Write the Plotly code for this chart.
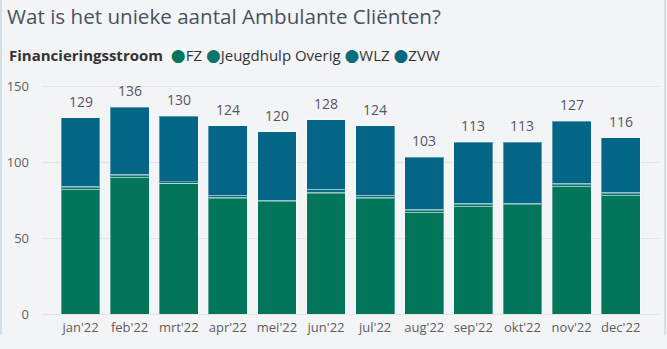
import plotly.graph_objects as go

months = ["jan'22", "feb'22", "mrt'22", "apr'22", "mei'22", "jun'22",
          "jul'22", "aug'22", "sep'22", "okt'22", "nov'22", "dec'22"]
fz = [82, 90, 86, 76, 74, 79, 76, 67, 71, 72, 84, 78]
jeugdhulp = [1, 1, 0, 1, 0, 1, 1, 1, 1, 0, 1, 1]
wlz = [1, 1, 1, 1, 1, 2, 1, 1, 1, 1, 1, 1]
zvw = [45, 44, 43, 46, 45, 46, 46, 34, 40, 40, 41, 36]
y_ticks = [0, 50, 100, 150]

series = [
    ("FZ", fz, "#01765A"),
    ("Jeugdhulp Overig", jeugdhulp, "#09756C"),
    ("WLZ", wlz, "#0A6E7E"),
    ("ZVW", zvw, "#036687"),
]

totals = [sum(v) for v in zip(fz, jeugdhulp, wlz, zvw)]

font_family = "Segoe UI, Open Sans, sans-serif"

fig = go.Figure()
for name, vals, color in series:
    fig.add_trace(go.Bar(
        x=months, y=vals, name=name, marker_color=color,
        marker_line=dict(color="rgba(255,255,255,0.35)", width=1),
        showlegend=False,
    ))

for m, t in zip(months, totals):
    fig.add_annotation(x=m, y=t, text=str(t), showarrow=False,
                       yanchor="bottom", yshift=5,
                       font=dict(size=14, color="#55555F", family=font_family))

legend_text = "<b>Financieringsstroom</b>  " + " ".join(
    f"<span style='color:{c};font-size:17px;font-family:DejaVu Sans'>●</span>{n}"
    for n, _, c in series)
fig.add_annotation(text=legend_text, xref="paper", yref="paper",
                   x=-35 / 618, xanchor="left", y=1 + 25 / 234,
                   yanchor="middle", showarrow=False,
                   font=dict(size=15, color="#333333", family=font_family))

fig.update_layout(
    width=667, height=349,
    barmode="stack", bargap=0.21,
    paper_bgcolor="#F3F4F6", plot_bgcolor="#F3F4F6",
    margin=dict(l=42, r=7, t=80, b=35),
    font=dict(family=font_family, color="#605E5C"),
    showlegend=False,
    title=dict(text="Wat is het unieke aantal Ambulante Cliënten?",
               x=7 / 667, xanchor="left", xref="container",
               y=1 - 17 / 349, yanchor="middle", yref="container",
               font=dict(size=20.6, color="#4A5160", family=font_family)),
    xaxis=dict(range=[-0.784, 11.8], showgrid=False, showline=False,
               ticks="", ticklabelstandoff=4,
               tickfont=dict(size=13, color="#605E5C")),
    yaxis=dict(range=[0, 154], tickvals=y_ticks, showgrid=True,
               gridcolor="#E3E4E6", gridwidth=1, zeroline=True,
               zerolinecolor="#E3E4E6", zerolinewidth=1,
               ticks="", ticklabelstandoff=12,
               tickfont=dict(size=13, color="#605E5C")),
    shapes=[
        dict(type="line", xref="paper", yref="paper",
             x0=-41 / 618, x1=-41 / 618, y0=-21 / 234, y1=1.4,
             line=dict(color="#C9D8E4", width=1.5)),
        dict(type="line", xref="paper", yref="paper",
             x0=1 + 5 / 618, x1=1 + 5 / 618, y0=-21 / 234, y1=1.4,
             line=dict(color="#C9D8E4", width=1.5)),
    ],
)

fig.write_html("out.html")
